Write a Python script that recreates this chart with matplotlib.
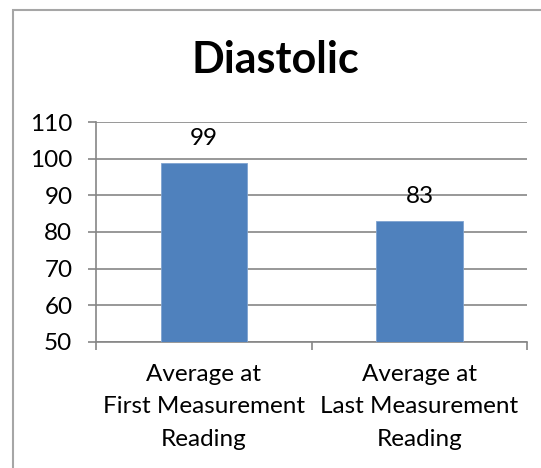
import matplotlib.pyplot as plt
from matplotlib.patches import Rectangle

# data
categories = ["Average at\nFirst Measurement\nReading",
              "Average at\nLast Measurement\nReading"]
values = [99, 83]
yticks = [50, 60, 70, 80, 90, 100, 110]

plt.rcParams['font.family'] = ['Lato', 'DejaVu Sans']

W, H = 541, 468
fig = plt.figure(figsize=(W / 100, H / 100), dpi=100)
fig.patch.set_facecolor('white')

# chart frame (left and top edges visible)
fig.patches.append(Rectangle((13 / W, -0.1), 1.2, (H - 10) / H + 0.1,
                             transform=fig.transFigure, fill=False,
                             edgecolor='#a6a6a6', linewidth=1.5))

ax = fig.add_axes([96 / W, 1 - 341.7 / H, (527.3 - 96) / W, (341.7 - 122.3) / H])

x = range(len(values))
ax.bar(x, values, width=0.4, color='#4f81bd', edgecolor='#7fa3d0',
       linewidth=0.6, zorder=3, bottom=0)
for i, v in zip(x, values):
    ax.annotate(f"{v}", (i, v), xytext=(0, 10), textcoords='offset points',
                ha='center', va='bottom', fontsize=17.5, color='black')

ax.set_ylim(50, 110)
ax.set_xlim(-0.5, 1.5)
ax.set_yticks(yticks)
ax.yaxis.grid(True, color='#868686', linewidth=1.2, zorder=0)
ax.tick_params(axis='y', length=6, width=1.2, color='#868686',
               labelsize=17.5, pad=11)

# category labels between boundary ticks
ax.set_xticks([-0.5, 0.5, 1.5])
ax.set_xticklabels([])
ax.set_xticks(list(x), minor=True)
ax.set_xticklabels(categories, minor=True, fontsize=17.5, linespacing=1.68)
ax.tick_params(axis='x', which='major', length=6, width=1.2, color='#868686')
ax.tick_params(axis='x', which='minor', length=0, pad=16)

for s in ['top', 'right']:
    ax.spines[s].set_visible(False)
for s in ['left', 'bottom']:
    ax.spines[s].set_color('#868686')
    ax.spines[s].set_linewidth(1.2)

fig.text(275 / W, 1 - 60 / H, "Diastolic", ha='center', va='center',
         fontsize=31, fontweight='bold')

fig.savefig('out.png', dpi=100)
